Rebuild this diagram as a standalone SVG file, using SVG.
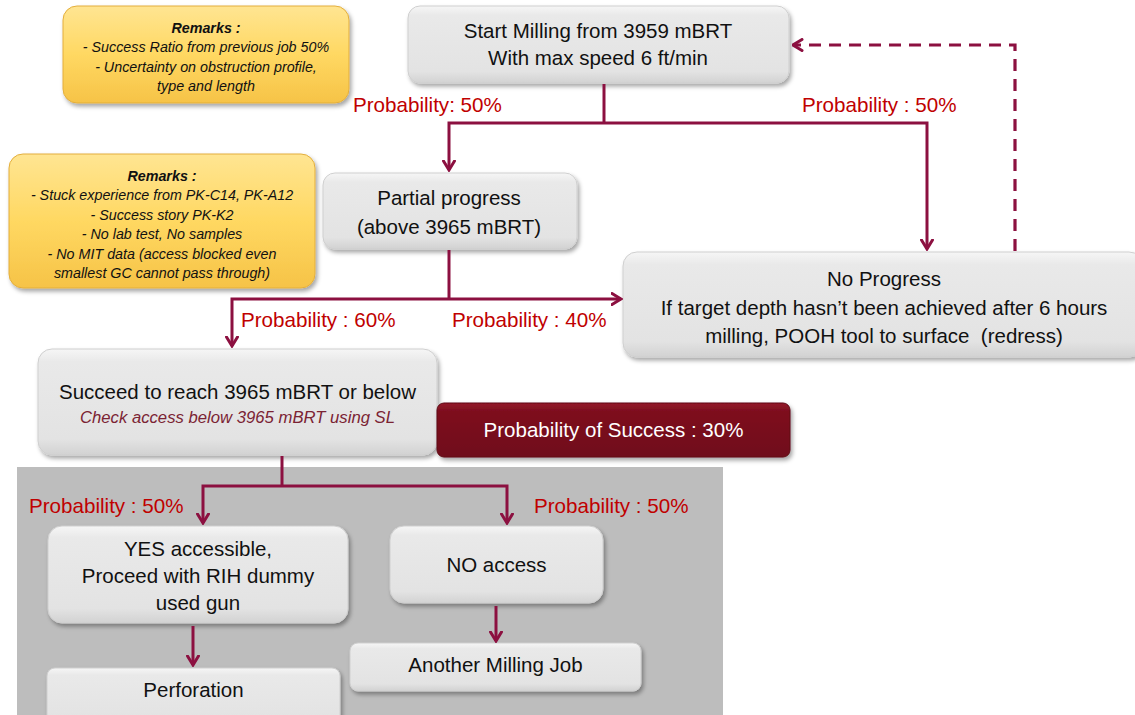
<svg xmlns="http://www.w3.org/2000/svg" width="1135" height="715" viewBox="0 0 1135 715">
  <style>
    text { font-family: "Liberation Sans", Arial, sans-serif; }
    .main { font-size: 20.5px; fill: #111; text-anchor: middle; }
    .keep { white-space: pre; }
    .note { font-size: 14.3px; font-style: italic; fill: #111; text-anchor: middle; }
    .note-h { font-size: 14.3px; font-style: italic; font-weight: bold; fill: #111; text-anchor: middle; }
    .prob { font-size: 20.6px; fill: #C00000; }
    .sub { font-size: 16.7px; font-style: italic; fill: #7B2333; text-anchor: middle; }
    .box { fill: url(#greyFill); stroke: #CFCFCF; stroke-width: 1; filter: url(#shadow); }
    .remark { fill: url(#yellowFill); stroke: #E3AE3C; stroke-width: 1; filter: url(#shadow); }
    .link { fill: none; stroke: #8C1040; stroke-width: 3; }
    .link-arrow { fill: none; stroke: #8C1040; stroke-width: 3; marker-end: url(#arrow); }
    .loop { fill: none; stroke: #8C1040; stroke-width: 3.2; stroke-dasharray: 12 8; marker-end: url(#arrow); }
  </style>
  <defs>
    <linearGradient id="greyFill" x1="0" y1="0" x2="0" y2="1">
      <stop offset="0" stop-color="#F6F6F6"/>
      <stop offset="0.12" stop-color="#E9E9E9"/>
      <stop offset="0.85" stop-color="#E3E3E3"/>
      <stop offset="1" stop-color="#D2D2D2"/>
    </linearGradient>
    <linearGradient id="yellowFill" x1="0" y1="0" x2="0" y2="1">
      <stop offset="0" stop-color="#FFE592"/>
      <stop offset="0.5" stop-color="#FFD862"/>
      <stop offset="1" stop-color="#F6C347"/>
    </linearGradient>
    <linearGradient id="redFill" x1="0" y1="0" x2="0" y2="1">
      <stop offset="0" stop-color="#951A2B"/>
      <stop offset="0.15" stop-color="#7E0F1F"/>
      <stop offset="1" stop-color="#700B1A"/>
    </linearGradient>
    <filter id="shadow" x="-10%" y="-10%" width="125%" height="135%">
      <feDropShadow dx="2" dy="3" stdDeviation="2" flood-color="#000" flood-opacity="0.35"/>
    </filter>
    <marker id="arrow" viewBox="0 0 12 14" markerWidth="12" markerHeight="14" refX="10.5" refY="7" orient="auto" markerUnits="userSpaceOnUse">
      <path d="M1.5,1.5 L10.5,7 L1.5,12.5" fill="none" stroke="#8C1040" stroke-width="3" stroke-linecap="round" stroke-linejoin="miter"/>
    </marker>
  </defs>

  <!-- shaded area behind the access check branch -->
  <rect id="access-panel" x="17" y="467" width="706" height="250" fill="#BDBDBD"/>

  <!-- remark notes -->
  <g id="remarks-start">
    <rect class="remark" x="63" y="6" width="286" height="97" rx="14"/>
    <text class="note-h" x="206" y="32.5">Remarks :</text>
    <text class="note" x="206" y="52">- Success Ratio from previous job 50%</text>
    <text class="note" x="206" y="71.5">- Uncertainty on obstruction profile,</text>
    <text class="note" x="206" y="91">type and length</text>
  </g>
  <g id="remarks-partial">
    <rect class="remark" x="9" y="154" width="306" height="134" rx="14"/>
    <text class="note-h" x="162" y="180.5">Remarks :</text>
    <text class="note" x="162" y="200">- Stuck experience from PK-C14, PK-A12</text>
    <text class="note" x="162" y="219.5">- Success story PK-K2</text>
    <text class="note" x="162" y="239">- No lab test, No samples</text>
    <text class="note" x="162" y="258.5">- No MIT data (access blocked even</text>
    <text class="note" x="162" y="278">smallest GC cannot pass through)</text>
  </g>

  <!-- process steps -->
  <g id="start-milling">
    <rect class="box" x="408" y="6" width="381" height="77" rx="12"/>
    <text class="main" x="598" y="37.5">Start Milling from 3959 mBRT</text>
    <text class="main" x="598" y="64.5">With max speed 6 ft/min</text>
  </g>
  <g id="partial-progress">
    <rect class="box" x="323" y="173" width="254" height="76" rx="12"/>
    <text class="main" x="449" y="205">Partial progress</text>
    <text class="main" x="449" y="233.5">(above 3965 mBRT)</text>
  </g>
  <g id="no-progress">
    <rect class="box" x="623" y="252" width="520" height="105" rx="14"/>
    <text class="main" x="884" y="286">No Progress</text>
    <text class="main" x="884" y="314.5">If target depth hasn’t been achieved after 6 hours</text>
    <text class="main keep" x="884" y="342.5">milling, POOH tool to surface  (redress)</text>
  </g>
  <g id="succeed">
    <rect class="box" x="38" y="349" width="399" height="106" rx="14"/>
    <text class="main" x="237.5" y="398.5">Succeed to reach 3965 mBRT or below</text>
    <text class="sub" x="237.5" y="422.5">Check access below 3965 mBRT using SL</text>
  </g>
  <g id="success-probability">
    <rect x="437" y="403" width="353" height="54" rx="7" fill="url(#redFill)" stroke="#5E0A15" stroke-width="1" filter="url(#shadow)"/>
    <text class="main" x="613.5" y="437" style="fill:#FFFFFF">Probability of Success : 30%</text>
  </g>
  <g id="yes-accessible">
    <rect class="box" x="48" y="526" width="300" height="97" rx="14"/>
    <text class="main" x="198" y="555.5">YES accessible,</text>
    <text class="main" x="198" y="582.5">Proceed with RIH dummy</text>
    <text class="main" x="198" y="609.5">used gun</text>
  </g>
  <g id="no-access">
    <rect class="box" x="390" y="526" width="213" height="77" rx="14"/>
    <text class="main" x="496.5" y="572">NO access</text>
  </g>
  <g id="perforation">
    <rect class="box" x="47" y="668" width="293" height="60" rx="8"/>
    <text class="main" x="193.5" y="697">Perforation</text>
  </g>
  <g id="another-milling-job">
    <rect class="box" x="350" y="643" width="291" height="48" rx="8"/>
    <text class="main" x="495.5" y="672">Another Milling Job</text>
  </g>

  <!-- connectors and branch probabilities -->
  <g id="connectors">
    <path class="link" d="M604,84 V123"/>
    <path class="link-arrow" d="M604,123 H449 V170"/>
    <path class="link-arrow" d="M604,123 H927 V249"/>
    <path class="loop" d="M1015,251 V45 H793"/>

    <path class="link" d="M449,250 V299"/>
    <path class="link-arrow" d="M449,299 H232 V346"/>
    <path class="link-arrow" d="M449,299 H621"/>

    <path class="link" d="M282,456 V486"/>
    <path class="link-arrow" d="M282,486 H203 V523"/>
    <path class="link-arrow" d="M282,486 H507 V523"/>

    <path class="link-arrow" d="M193,626 V665"/>
    <path class="link-arrow" d="M496,606 V641"/>

    <text class="prob" x="353" y="111.5">Probability: 50%</text>
    <text class="prob" x="802" y="111.5">Probability : 50%</text>
    <text class="prob" x="241" y="327">Probability : 60%</text>
    <text class="prob" x="452" y="327">Probability : 40%</text>
    <text class="prob" x="29" y="513">Probability : 50%</text>
    <text class="prob" x="534" y="513">Probability : 50%</text>
  </g>
</svg>
